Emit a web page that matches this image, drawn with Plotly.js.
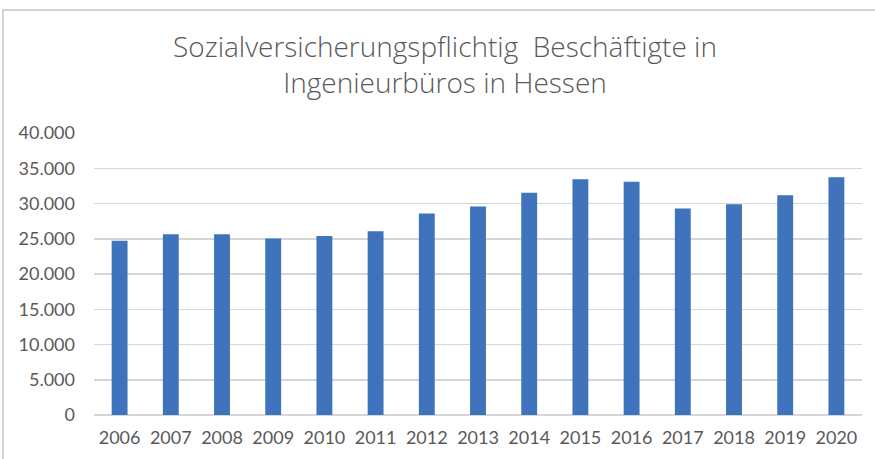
<!DOCTYPE html>
<html>
<head>
<meta charset="utf-8">
<script src="https://cdn.plot.ly/plotly-3.0.1.min.js"></script>
<style>
  html, body { margin: 0; padding: 0; background: #fff; }
  #frame { position: absolute; left: 2px; top: 9px; width: 873px; height: 450px;
           border-top: 2px solid #d3d3d3; border-left: 2px solid #d3d3d3; box-sizing: border-box; pointer-events: none; z-index: 5; }
  #chart { position: absolute; left: 0; top: 0; width: 875px; height: 459px; }
</style>
</head>
<body>
<div id="chart"></div>
<div id="frame"></div>
<script>
const years = ["2006","2007","2008","2009","2010","2011","2012","2013","2014","2015","2016","2017","2018","2019","2020"];
const employees = [24700, 25650, 25650, 25050, 25380, 26050, 28570, 29560, 31540, 33430, 33100, 29280, 29890, 31160, 33720];
const yTickVals = [0, 5000, 10000, 15000, 20000, 25000, 30000, 35000, 40000];
const yTickText = ["0", "5.000", "10.000", "15.000", "20.000", "25.000", "30.000", "35.000", "40.000"];
const titleLines = ["Sozialversicherungspflichtig\u00a0 Beschäftigte in", "Ingenieurbüros in Hessen"];

const textColor = "#595959";
const font = "Lato, 'Open Sans', sans-serif";
const titleFont = "'Open Sans', 'Noto Sans', sans-serif";

Plotly.newPlot("chart", [{
  type: "bar",
  x: years,
  y: employees,
  marker: { color: "#3f73bb" },
  hoverinfo: "x+y"
}], {
  width: 875,
  height: 459,
  margin: { l: 94, r: 13, t: 133, b: 44, pad: 0 },
  paper_bgcolor: "#ffffff",
  plot_bgcolor: "#ffffff",
  bargap: 0.69,
  showlegend: false,
  font: { family: font, color: textColor, size: 18 },
  title: {
    text: titleLines.join("<br>"),
    font: { family: titleFont, size: 28, color: textColor, weight: 300 },
    x: 445 / 875, xref: "container", xanchor: "center",
    y: 1 - 57 / 459, yref: "container", yanchor: "top"
  },
  xaxis: {
    type: "category",
    tickfont: { family: font, size: 18, color: textColor },
    showgrid: false,
    showline: false,
    zeroline: false,
    ticks: "",
    ticklabelstandoff: 10
  },
  yaxis: {
    range: [0, 40000],
    tickvals: yTickVals,
    ticktext: yTickText,
    tickfont: { family: font, size: 18, color: textColor },
    showgrid: true,
    gridcolor: "#d6d6d6",
    gridwidth: 1.5,
    zeroline: true,
    zerolinecolor: "#d6d6d6",
    zerolinewidth: 1.5,
    showline: false,
    ticks: "",
    ticklabelstandoff: 18
  }
}, { displayModeBar: false, staticPlot: true });
</script>
</body>
</html>
